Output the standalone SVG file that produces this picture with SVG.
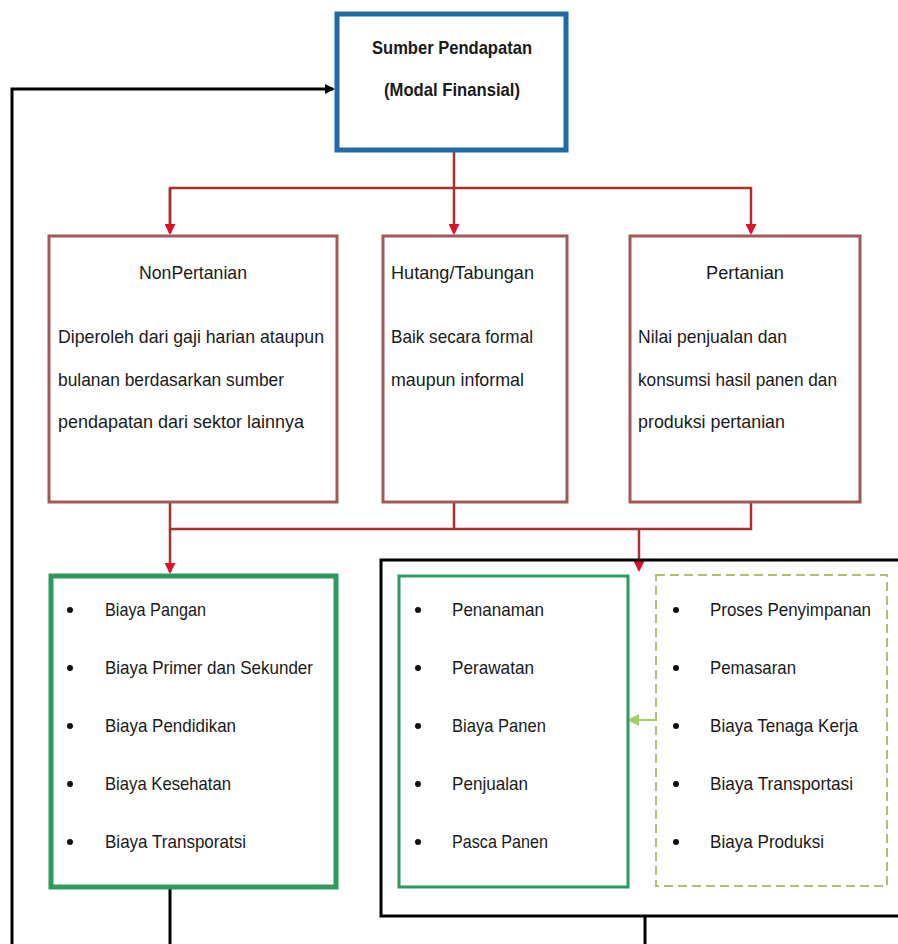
<svg xmlns="http://www.w3.org/2000/svg" width="898" height="944" viewBox="0 0 898 944">
<style>
text{font-family:"Liberation Sans",Arial,sans-serif;font-size:19px;fill:#1a1a1a}
.b{font-weight:bold}
.red{stroke:#a8322e;stroke-width:2.5;fill:none}
.blk{stroke:#000;stroke-width:3;fill:none}
.src{fill:#fff;stroke:#a05858;stroke-width:3}
.grn{fill:#fff;stroke:#2e9a5e;stroke-width:5}
.dash{fill:#fff;stroke:#b0bf78;stroke-width:2;stroke-dasharray:9 5}
.bul{fill:#111}
</style>
<defs>
<marker id="ar" markerWidth="11" markerHeight="11" refX="9" refY="5.5" orient="auto" markerUnits="userSpaceOnUse"><path d="M0,0 L11,5.5 L0,11 z" fill="#e0102a"/></marker>
<marker id="ab" markerWidth="10" markerHeight="10" refX="8" refY="5" orient="auto" markerUnits="userSpaceOnUse"><path d="M0,0 L10,5 L0,10 z" fill="#000"/></marker>
<marker id="ag" markerWidth="12" markerHeight="12" refX="9" refY="6" orient="auto" markerUnits="userSpaceOnUse"><path d="M0,0 L12,6 L0,12 z" fill="#a8cc6a"/></marker>
</defs>
<g id="connectors">
<polyline class="blk" points="170,888 170,944"/>
<polyline class="blk" points="645,916 645,944"/>
<polyline class="blk" points="12,944 12,89 333,89" marker-end="url(#ab)"/>
<line class="red" x1="454" y1="151" x2="454" y2="233" marker-end="url(#ar)"/>
<polyline class="red" points="170,233 170,188 751,188 751,233" marker-end="url(#ar)"/>
<line class="red" x1="170" y1="188" x2="170" y2="233" marker-end="url(#ar)"/>
<polyline class="red" points="170,502 170,529 751,529 751,502"/>
<line class="red" x1="454" y1="502" x2="454" y2="529"/>
<line class="red" x1="170" y1="529" x2="170" y2="572" marker-end="url(#ar)"/>
<line class="red" x1="639" y1="529" x2="639" y2="570" marker-end="url(#ar)"/>
<line stroke="#a8cc6a" stroke-width="2" x1="656" y1="720" x2="630" y2="720" marker-end="url(#ag)"/>
</g>
<g id="top">
<rect x="337" y="14" width="229" height="136" fill="#fff" stroke="#1f6aa8" stroke-width="5"/>
<text class="b" x="452" y="54" text-anchor="middle" textLength="160" lengthAdjust="spacingAndGlyphs">Sumber Pendapatan</text>
<text class="b" x="452" y="96" text-anchor="middle" textLength="136" lengthAdjust="spacingAndGlyphs">(Modal Finansial)</text>
</g>
<g id="nonpertanian">
<rect class="src" x="49" y="236" width="288" height="266"/>
<text x="193" y="279" text-anchor="middle" textLength="108" lengthAdjust="spacingAndGlyphs">NonPertanian</text>
<text x="58" y="343" textLength="266" lengthAdjust="spacingAndGlyphs">Diperoleh dari gaji harian ataupun</text>
<text x="58" y="386" textLength="226" lengthAdjust="spacingAndGlyphs">bulanan berdasarkan sumber</text>
<text x="58" y="428" textLength="246" lengthAdjust="spacingAndGlyphs">pendapatan dari sektor lainnya</text>
</g>
<g id="hutang">
<rect class="src" x="383" y="236" width="184" height="266"/>
<text x="391" y="279" textLength="143" lengthAdjust="spacingAndGlyphs">Hutang/Tabungan</text>
<text x="391" y="343" textLength="142" lengthAdjust="spacingAndGlyphs">Baik secara formal</text>
<text x="391" y="386" textLength="133" lengthAdjust="spacingAndGlyphs">maupun informal</text>
</g>
<g id="pertanian">
<rect class="src" x="630" y="236" width="230" height="266"/>
<text x="745" y="279" text-anchor="middle" textLength="78" lengthAdjust="spacingAndGlyphs">Pertanian</text>
<text x="638" y="343" textLength="149" lengthAdjust="spacingAndGlyphs">Nilai penjualan dan</text>
<text x="638" y="386" textLength="199" lengthAdjust="spacingAndGlyphs">konsumsi hasil panen dan</text>
<text x="638" y="428" textLength="147" lengthAdjust="spacingAndGlyphs">produksi pertanian</text>
</g>
<g id="biaya-rumah-tangga">
<rect class="grn" x="51" y="576" width="285" height="311"/>
<g class="bul"><circle cx="70" cy="610" r="3"/><circle cx="70" cy="668" r="3"/><circle cx="70" cy="726" r="3"/><circle cx="70" cy="784" r="3"/><circle cx="70" cy="842" r="3"/></g>
<text x="105" y="616" textLength="101" lengthAdjust="spacingAndGlyphs">Biaya Pangan</text>
<text x="105" y="674" textLength="208" lengthAdjust="spacingAndGlyphs">Biaya Primer dan Sekunder</text>
<text x="105" y="732" textLength="131" lengthAdjust="spacingAndGlyphs">Biaya Pendidikan</text>
<text x="105" y="790" textLength="126" lengthAdjust="spacingAndGlyphs">Biaya Kesehatan</text>
<text x="105" y="848" textLength="141" lengthAdjust="spacingAndGlyphs">Biaya Transporatsi</text>
</g>
<g id="usaha-tani">
<rect x="381" y="560" width="530" height="356" fill="none" stroke="#000" stroke-width="3"/>
</g>
<g id="kegiatan-tani">
<rect x="399" y="576" width="229" height="311" fill="#fff" stroke="#2e9a5e" stroke-width="3"/>
<g class="bul"><circle cx="418" cy="610" r="3"/><circle cx="418" cy="668" r="3"/><circle cx="418" cy="726" r="3"/><circle cx="418" cy="784" r="3"/><circle cx="418" cy="842" r="3"/></g>
<text x="452" y="616" textLength="92" lengthAdjust="spacingAndGlyphs">Penanaman</text>
<text x="452" y="674" textLength="82" lengthAdjust="spacingAndGlyphs">Perawatan</text>
<text x="452" y="732" textLength="94" lengthAdjust="spacingAndGlyphs">Biaya Panen</text>
<text x="452" y="790" textLength="76" lengthAdjust="spacingAndGlyphs">Penjualan</text>
<text x="452" y="848" textLength="96" lengthAdjust="spacingAndGlyphs">Pasca Panen</text>
</g>
<g id="biaya-tani">
<rect class="dash" x="656" y="575" width="231" height="311"/>
<g class="bul"><circle cx="676" cy="610" r="3"/><circle cx="676" cy="668" r="3"/><circle cx="676" cy="726" r="3"/><circle cx="676" cy="784" r="3"/><circle cx="676" cy="842" r="3"/></g>
<text x="710" y="616" textLength="161" lengthAdjust="spacingAndGlyphs">Proses Penyimpanan</text>
<text x="710" y="674" textLength="86" lengthAdjust="spacingAndGlyphs">Pemasaran</text>
<text x="710" y="732" textLength="148" lengthAdjust="spacingAndGlyphs">Biaya Tenaga Kerja</text>
<text x="710" y="790" textLength="143" lengthAdjust="spacingAndGlyphs">Biaya Transportasi</text>
<text x="710" y="848" textLength="114" lengthAdjust="spacingAndGlyphs">Biaya Produksi</text>
</g>
</svg>
